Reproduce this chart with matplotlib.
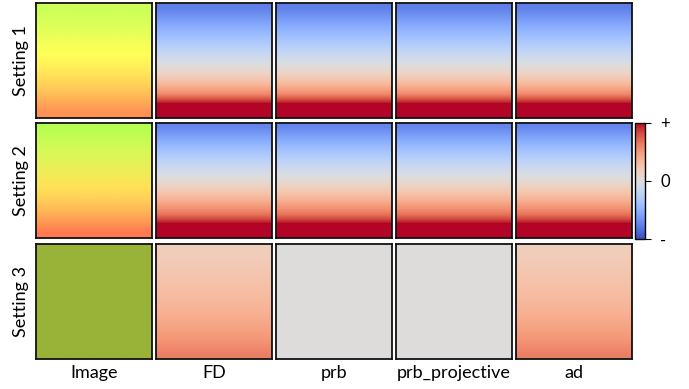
import numpy as np
import matplotlib
matplotlib.use("Agg")
import matplotlib.pyplot as plt

plt.rcParams['font.family'] = ['Lato', 'DejaVu Sans']

methods = ["Image", "FD", "prb", "prb_projective", "ad"]
settings = ["Setting 1", "Setting 2", "Setting 3"]

# sensitivity read down each panel (top -> bottom), normalised to [-1, 1]
s1_fd = [-0.76, -0.64, -0.51, -0.39, -0.26, -0.13, 0.00, 0.15, 0.34, 0.58, 1.00, 1.50]
s1_prb = [-0.76, -0.64, -0.51, -0.39, -0.26, -0.13, 0.00, 0.15, 0.34, 0.58, 1.00, 1.50]
s1_proj = [-0.76, -0.64, -0.51, -0.39, -0.26, -0.13, 0.00, 0.15, 0.34, 0.58, 1.00, 1.50]
s1_ad = [-0.76, -0.64, -0.51, -0.39, -0.26, -0.13, 0.00, 0.15, 0.34, 0.58, 1.00, 1.50]
s2_fd = [-0.72, -0.57, -0.42, -0.28, -0.15, -0.02, 0.12, 0.28, 0.46, 0.66, 1.00, 1.50]
s2_prb = [-0.72, -0.57, -0.42, -0.28, -0.15, -0.02, 0.12, 0.28, 0.46, 0.66, 1.00, 1.50]
s2_proj = [-0.72, -0.57, -0.42, -0.28, -0.15, -0.02, 0.12, 0.28, 0.46, 0.66, 1.00, 1.50]
s2_ad = [-0.72, -0.57, -0.42, -0.28, -0.15, -0.02, 0.12, 0.28, 0.46, 0.66, 1.00, 1.50]
s3_fd = [0.17, 0.19, 0.22, 0.25, 0.28, 0.31, 0.35, 0.39, 0.44, 0.49, 0.55, 0.62]
s3_prb = [0.0] * 12
s3_proj = [0.0] * 12
s3_ad = [0.17, 0.19, 0.22, 0.25, 0.28, 0.31, 0.35, 0.39, 0.44, 0.49, 0.55, 0.62]

# rendered image colour down each panel (RGB, 0-255)
img1 = [(204, 255, 88), (214, 255, 88), (228, 255, 88), (244, 255, 88), (255, 255, 88),
        (255, 240, 88), (255, 222, 88), (255, 200, 88), (255, 174, 86), (255, 145, 84)]
img2 = [(182, 255, 80), (200, 252, 84), (216, 248, 88), (230, 242, 88), (242, 236, 88),
        (255, 226, 88), (255, 210, 88), (255, 186, 86), (255, 156, 84), (255, 122, 80)]
img3 = [(153, 178, 56)] * 2

sens = [[s1_fd, s1_prb, s1_proj, s1_ad],
        [s2_fd, s2_prb, s2_proj, s2_ad],
        [s3_fd, s3_prb, s3_proj, s3_ad]]
imgs = [img1, img2, img3]

W, H = 689, 389
fig = plt.figure(figsize=(W / 100, H / 100), dpi=100)

col_x = [36, 156, 276, 396, 516]
row_y = [3, 123, 244]
pw, ph = 116, 115


def px_axes(x, y, w, h):
    return fig.add_axes([x / W, 1 - (y + h) / H, w / W, h / H])


for r in range(3):
    for c in range(5):
        ax = px_axes(col_x[c], row_y[r], pw, ph)
        if c == 0:
            rgb = np.array(imgs[r], dtype=float)[:, None, :] / 255
            ax.imshow(np.repeat(rgb, 2, axis=1), aspect='auto', interpolation='bilinear')
        else:
            v = np.array(sens[r][c - 1])[:, None]
            im = ax.imshow(np.repeat(v, 2, axis=1), cmap='coolwarm', vmin=-1, vmax=1,
                           aspect='auto', interpolation='bilinear')
        ax.set_xticks([])
        ax.set_yticks([])
        for sp in ax.spines.values():
            sp.set_linewidth(1.3)
            sp.set_color('#111111')
        if c == 0:
            ax.set_ylabel(settings[r], fontsize=13, labelpad=5)
        if r == 2:
            ax.set_xlabel(methods[c], fontsize=13, labelpad=4)

cax = px_axes(635, 123, 10, 116)
cb = fig.colorbar(im, cax=cax, ticks=[-1, 0, 1])
cb.ax.set_yticklabels(['-', '0', '+'], fontsize=12)
cb.ax.tick_params(length=4, width=0.8, pad=7)
cb.outline.set_linewidth(1.0)

fig.savefig("out.png", dpi=100)
